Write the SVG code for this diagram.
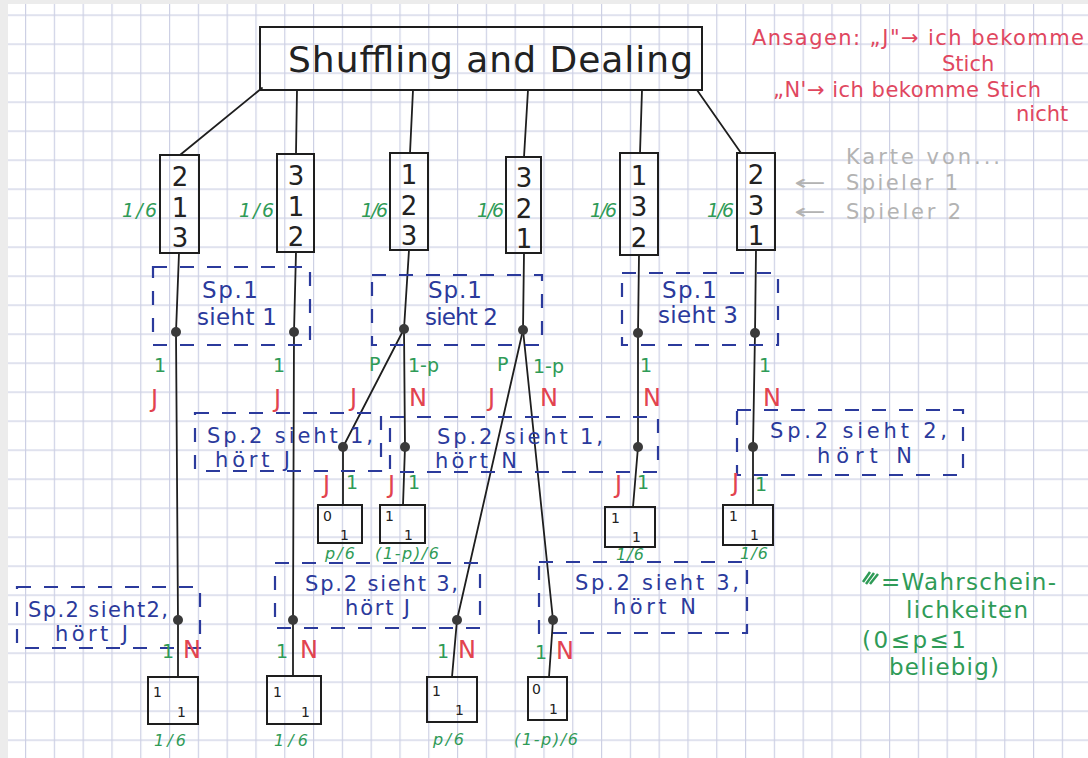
<svg xmlns="http://www.w3.org/2000/svg" width="1088" height="758" viewBox="0 0 1088 758">
<defs>
<pattern id="grid" patternUnits="userSpaceOnUse" x="25" y="14.5" width="28.8" height="29">
<path d="M0.6 0V29M0 0.6H28.8" stroke="#cdd0e4" stroke-width="1.2" fill="none"/>
</pattern>
</defs>
<style>
text{font-family:"DejaVu Sans","Liberation Sans",sans-serif}
.ln{stroke:#1e1e1e;stroke-width:1.8;fill:none;stroke-linecap:round}
.bx{stroke:#1e1e1e;stroke-width:2;fill:none}
.ds{stroke:#2b3a9c;stroke-width:2.2;fill:none;stroke-dasharray:14 13}
.dot{fill:#3a3a3a}
.dig{font-size:26px;fill:#222;text-anchor:middle}
.sm{font-size:14px;fill:#222}
.bl{font-size:23px;fill:#2b3a9c}
.b2{font-size:21px;fill:#2b3a9c}
.rd{font-size:24px;fill:#e2434f}
.gr{font-size:19px;fill:#2f9b57}
.gs{font-size:16px;fill:#2f9b57;font-style:italic}
.gp{font-size:19px;fill:#2f9b57;font-style:italic}
.an{font-size:21px;fill:#e0475f}
.gy{font-size:21px;fill:#b3b3b3}
.lg{font-size:23px;fill:#2f9b57}
</style>
<rect width="1088" height="758" fill="#fff"/>
<rect width="1088" height="758" fill="url(#grid)"/>
<rect width="1088" height="4" fill="#ececec"/>
<rect width="8" height="758" fill="#ececec"/>

<g id="connectors">
<path class="ln" d="M262 88L180 155"/>
<path class="ln" d="M297 90L296 153"/>
<path class="ln" d="M413 90L410 153"/>
<path class="ln" d="M528 90L524 157"/>
<path class="ln" d="M642 90L640 153"/>
<path class="ln" d="M697 90L741 153"/>
<path class="ln" d="M179 253L176 332L178 620L178 677"/>
<path class="ln" d="M296 252L294 332L293 620L293 676"/>
<path class="ln" d="M409 250L404 329"/>
<path class="ln" d="M404 329L343 447L343 505"/>
<path class="ln" d="M404 329L405 447L403 505"/>
<path class="ln" d="M524 253L523 330"/>
<path class="ln" d="M523 330L457 620L452 677"/>
<path class="ln" d="M523 330L553 620L549 677"/>
<path class="ln" d="M639 255L638 333L638 447L633 507"/>
<path class="ln" d="M756 250L755 333L753 447L753 505"/>
</g>

<g id="dots">
<circle class="dot" cx="176" cy="332" r="5"/>
<circle class="dot" cx="294" cy="332" r="5"/>
<circle class="dot" cx="404" cy="329" r="5"/>
<circle class="dot" cx="523" cy="330" r="5"/>
<circle class="dot" cx="638" cy="333" r="5"/>
<circle class="dot" cx="755" cy="333" r="5"/>
<circle class="dot" cx="343" cy="447" r="5"/>
<circle class="dot" cx="405" cy="447" r="5"/>
<circle class="dot" cx="638" cy="447" r="5"/>
<circle class="dot" cx="753" cy="447" r="5"/>
<circle class="dot" cx="178" cy="620" r="5"/>
<circle class="dot" cx="293" cy="620" r="5"/>
<circle class="dot" cx="457" cy="620" r="5"/>
<circle class="dot" cx="553" cy="620" r="5"/>
</g>

<g id="title">
<rect class="bx" x="260" y="27" width="442" height="63"/>
<text x="288" y="72" font-size="36" fill="#222" textLength="405">Shuffling and Dealing</text>
</g>

<g id="deal1">
<rect class="bx" x="160" y="155" width="39" height="98"/>
<text class="dig" x="180" y="186">2</text><text class="dig" x="180" y="216.5">1</text><text class="dig" x="180" y="247">3</text>
<text class="gp" x="122" y="217" textLength="35">1/6</text>
</g>
<g id="deal2">
<rect class="bx" x="277" y="154" width="37" height="98"/>
<text class="dig" x="296" y="185">3</text><text class="dig" x="296" y="215.5">1</text><text class="dig" x="296" y="246">2</text>
<text class="gp" x="239" y="217" textLength="35">1/6</text>
</g>
<g id="deal3">
<rect class="bx" x="390" y="153" width="38" height="97"/>
<text class="dig" x="409" y="184">1</text><text class="dig" x="409" y="214.5">2</text><text class="dig" x="409" y="245">3</text>
<text class="gp" x="361" y="217" textLength="27">1/6</text>
</g>
<g id="deal4">
<rect class="bx" x="506" y="157" width="35" height="96"/>
<text class="dig" x="524" y="187">3</text><text class="dig" x="524" y="217.5">2</text><text class="dig" x="524" y="248">1</text>
<text class="gp" x="477" y="217" textLength="27">1/6</text>
</g>
<g id="deal5">
<rect class="bx" x="620" y="153" width="38" height="102"/>
<text class="dig" x="639" y="185">1</text><text class="dig" x="639" y="216">3</text><text class="dig" x="639" y="247">2</text>
<text class="gp" x="590" y="217" textLength="27">1/6</text>
</g>
<g id="deal6">
<rect class="bx" x="737" y="153" width="38" height="97"/>
<text class="dig" x="756" y="184">2</text><text class="dig" x="756" y="214.5">3</text><text class="dig" x="756" y="245">1</text>
<text class="gp" x="707" y="217" textLength="27">1/6</text>
</g>

<g id="info-s1-1">
<rect class="ds" x="153" y="267" width="157" height="78"/>
<text class="bl" x="202" y="298" textLength="56">Sp.1</text>
<text class="bl" x="197" y="325" textLength="80">sieht 1</text>
</g>
<g id="info-s1-2">
<rect class="ds" x="372" y="275" width="170" height="70"/>
<text class="bl" x="428" y="298" textLength="54">Sp.1</text>
<text class="bl" x="425" y="325" textLength="73">sieht 2</text>
</g>
<g id="info-s1-3">
<rect class="ds" x="622" y="273" width="156" height="72"/>
<text class="bl" x="662" y="298" textLength="55">Sp.1</text>
<text class="bl" x="658" y="323" textLength="80">sieht 3</text>
</g>
<g id="info-s2-1J">
<rect class="ds" x="195" y="413" width="186" height="58"/>
<text class="b2" x="207" y="443" textLength="166">Sp.2 sieht 1,</text>
<text class="b2" x="215" y="467" textLength="75">hört J</text>
</g>
<g id="info-s2-1N">
<rect class="ds" x="390" y="417" width="268" height="55"/>
<text class="b2" x="437" y="444" textLength="166">Sp.2 sieht 1,</text>
<text class="b2" x="435" y="468" textLength="82">hört N</text>
</g>
<g id="info-s2-2N">
<rect class="ds" x="737" y="410" width="226" height="65"/>
<text class="b2" x="770" y="438" textLength="177">Sp.2 sieht 2,</text>
<text class="b2" x="817" y="463" textLength="95">hört N</text>
</g>
<g id="info-s2-2J">
<rect class="ds" x="17" y="587" width="183" height="61"/>
<text class="b2" x="28" y="617" textLength="140">Sp.2 sieht2,</text>
<text class="b2" x="55" y="641" textLength="73">hört J</text>
</g>
<g id="info-s2-3J">
<rect class="ds" x="275" y="563" width="205" height="65"/>
<text class="b2" x="305" y="591" textLength="153">Sp.2 sieht 3,</text>
<text class="b2" x="345" y="615" textLength="65">hört J</text>
</g>
<g id="info-s2-3N">
<rect class="ds" x="539" y="562" width="208" height="71"/>
<text class="b2" x="575" y="590" textLength="164">Sp.2 sieht 3,</text>
<text class="b2" x="613" y="614" textLength="83">hört N</text>
</g>

<g id="edge-labels">
<text class="gr" x="154" y="372">1</text><text class="rd" x="151" y="407">J</text>
<text class="gr" x="273" y="372">1</text><text class="rd" x="274" y="407">J</text>
<text class="gr" x="369" y="371">P</text><text class="gr" x="408" y="372">1-p</text>
<text class="rd" x="350" y="406">J</text><text class="rd" x="409" y="406">N</text>
<text class="gr" x="497" y="371">P</text><text class="gr" x="533" y="373">1-p</text>
<text class="rd" x="488" y="406">J</text><text class="rd" x="540" y="406">N</text>
<text class="gr" x="640" y="372">1</text><text class="rd" x="643" y="406">N</text>
<text class="gr" x="759" y="372">1</text><text class="rd" x="763" y="406">N</text>
<text class="rd" x="323" y="493">J</text><text class="gr" x="346" y="489">1</text>
<text class="rd" x="388" y="493">J</text><text class="gr" x="408" y="489">1</text>
<text class="rd" x="615" y="493">J</text><text class="gr" x="637" y="489">1</text>
<text class="rd" x="732" y="491">J</text><text class="gr" x="755" y="491">1</text>
<text class="gr" x="162" y="658">1</text><text class="rd" x="183" y="658">N</text>
<text class="gr" x="276" y="658">1</text><text class="rd" x="300" y="658">N</text>
<text class="gr" x="437" y="658">1</text><text class="rd" x="458" y="658">N</text>
<text class="gr" x="535" y="659">1</text><text class="rd" x="556" y="659">N</text>
</g>

<g id="leafA">
<rect class="bx" x="318" y="505" width="44" height="38"/>
<text class="sm" x="323" y="521">0</text><text class="sm" x="340" y="540">1</text>
<text class="gs" x="325" y="559" textLength="30">p/6</text>
</g>
<g id="leafB">
<rect class="bx" x="380" y="505" width="45" height="38"/>
<text class="sm" x="385" y="521">1</text><text class="sm" x="404" y="540">1</text>
<text class="gs" x="375" y="559" textLength="64">(1-p)/6</text>
</g>
<g id="leafC">
<rect class="bx" x="605" y="507" width="50" height="40"/>
<text class="sm" x="611" y="523">1</text><text class="sm" x="632" y="542">1</text>
<text class="gs" x="616" y="560" textLength="28">1/6</text>
</g>
<g id="leafD">
<rect class="bx" x="723" y="505" width="50" height="40"/>
<text class="sm" x="729" y="521">1</text><text class="sm" x="750" y="540">1</text>
<text class="gs" x="740" y="559" textLength="28">1/6</text>
</g>
<g id="leaf1">
<rect class="bx" x="148" y="677" width="50" height="47"/>
<text class="sm" x="153" y="697">1</text><text class="sm" x="177" y="717">1</text>
<text class="gs" x="154" y="746" textLength="32">1/6</text>
</g>
<g id="leaf2">
<rect class="bx" x="267" y="676" width="54" height="48"/>
<text class="sm" x="273" y="697">1</text><text class="sm" x="301" y="717">1</text>
<text class="gs" x="274" y="746" textLength="34">1/6</text>
</g>
<g id="leaf3">
<rect class="bx" x="427" y="677" width="50" height="45"/>
<text class="sm" x="432" y="696">1</text><text class="sm" x="455" y="715">1</text>
<text class="gs" x="433" y="745" textLength="31">p/6</text>
</g>
<g id="leaf4">
<rect class="bx" x="528" y="677" width="39" height="43"/>
<text class="sm" x="532" y="694">0</text><text class="sm" x="549" y="714">1</text>
<text class="gs" x="514" y="745" textLength="64">(1-p)/6</text>
</g>

<g id="note-ansagen">
<text class="an" x="752" y="45" textLength="332">Ansagen: „J"→ ich bekomme</text>
<text class="an" x="942" y="71">Stich</text>
<text class="an" x="773" y="97" textLength="268">„N'→ ich bekomme Stich</text>
<text class="an" x="1016" y="121">nicht</text>
</g>
<g id="note-karte">
<text class="gy" x="846" y="164" textLength="154">Karte von...</text>
<text class="gy" x="794" y="190" textLength="32" lengthAdjust="spacingAndGlyphs">←</text>
<text class="gy" x="846" y="190" textLength="112">Spieler 1</text>
<text class="gy" x="794" y="219" textLength="32" lengthAdjust="spacingAndGlyphs">←</text>
<text class="gy" x="846" y="219" textLength="115">Spieler 2</text>
</g>
<g id="legend">
<path d="M863 582L870 572M866 584L874 573M870 584L878 574" stroke="#2f9b57" stroke-width="2.5" fill="none"/>
<text class="lg" x="881" y="590" textLength="175">=Wahrschein-</text>
<text class="lg" x="906" y="618" textLength="122">lichkeiten</text>
<text class="lg" x="862" y="648" textLength="104">(0≤p≤1</text>
<text class="lg" x="889" y="675" textLength="110">beliebig)</text>
</g>
</svg>
